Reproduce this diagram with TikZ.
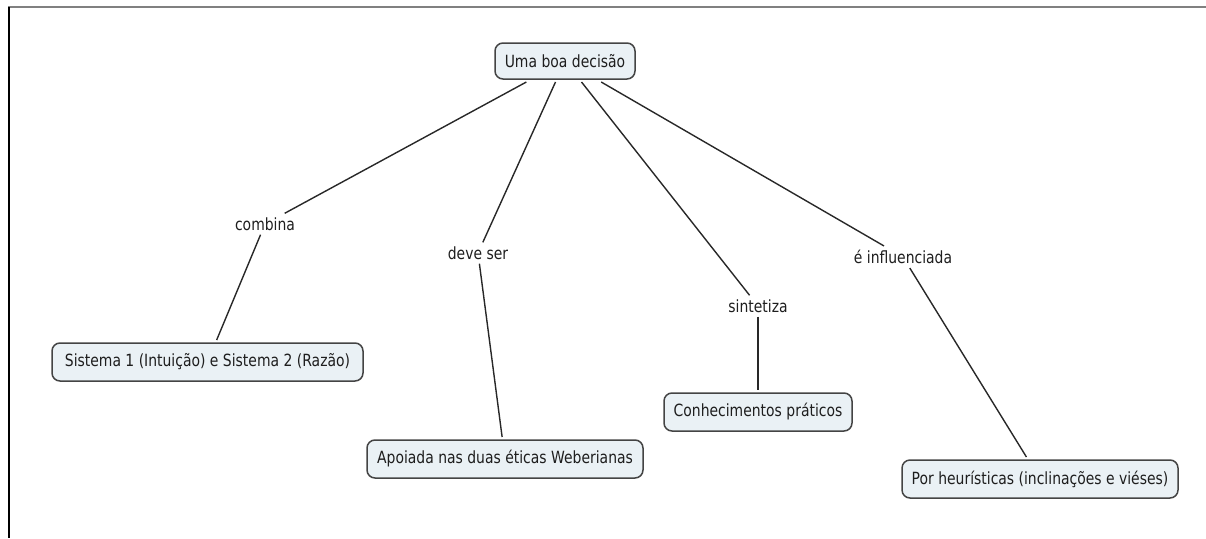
\documentclass[tikz,border=0pt]{standalone}
\usepackage{fontspec}
\setmainfont{DejaVu Sans}[FakeStretch=0.83]
\definecolor{boxfill}{RGB}{234,241,245}
\definecolor{boxline}{RGB}{68,68,68}
\definecolor{txt}{RGB}{30,30,30}
\definecolor{edge}{RGB}{40,40,40}
\definecolor{frametop}{RGB}{128,128,128}
\begin{document}
\begin{tikzpicture}[x=1pt,y=-1pt,
  box/.style={draw=boxline, fill=boxfill, rounded corners=8pt, line width=1.5pt,
    minimum height=38pt, inner xsep=8pt, outer sep=3pt, text=txt,
    font=\fontsize{16.8}{19}\selectfont},
  lbl/.style={inner sep=4pt, text=txt, font=\fontsize{16.8}{19}\selectfont},
  link/.style={draw=edge, line width=1.4pt}]
\useasboundingbox (0,0) rectangle (1206,538);
% frame
\draw[frametop, line width=2pt] (8,7) -- (1206,7);
\draw[black, line width=1.5pt] (9,7) -- (9,538);
% concepts
\node[box, minimum width=140pt, minimum height=36pt] (root) at (565,61) {Uma boa decisão};
\node[box, minimum width=311pt] (sis) at (207.5,362) {Sistema 1 (Intuição) e Sistema 2 (Razão)};
\node[box, minimum width=276pt] (apo) at (505,459) {Apoiada nas duas éticas Weberianas};
\node[box, minimum width=188pt] (con) at (758,412) {Conhecimentos práticos};
\node[box, minimum width=276pt] (por) at (1040,479) {Por heurísticas (inclinações e viéses)};
% linking phrases
\node[lbl] (comb) at (265,224) {combina};
\node[lbl] (deve) at (478,253) {deve ser};
\node[lbl] (sint) at (758,306) {sintetiza};
\node[lbl] (infl) at (903,257) {é influenciada};
% connectors
\draw[link] (root) -- (comb);
\draw[link] (comb) -- (sis);
\draw[link] (root) -- (deve);
\draw[link] (deve) -- (apo);
\draw[link] (root) -- (sint);
\draw[link] (sint) -- (con);
\draw[link] (root) -- (infl);
\draw[link] (infl) -- (por);
\end{tikzpicture}
\end{document}
